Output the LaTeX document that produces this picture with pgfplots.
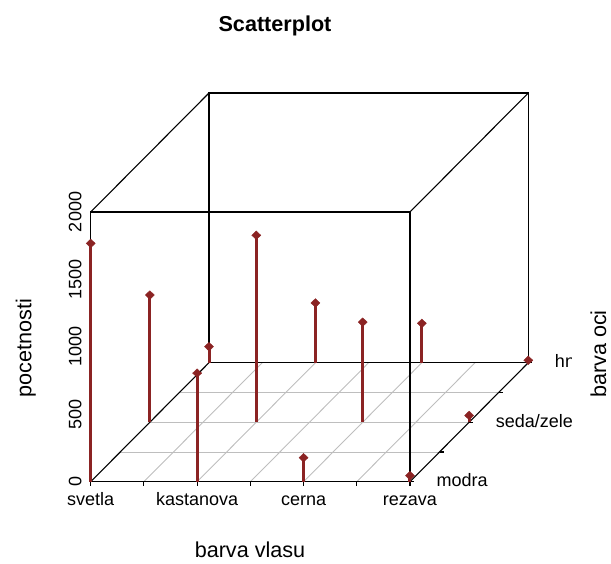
\documentclass[border=0pt]{standalone}
\usepackage{pgfplots}
\pgfplotsset{compat=1.18}
\usepackage{pgfplotstable}
\usepackage{fontspec}
\setmainfont{Liberation Sans}
\definecolor{stem}{RGB}{139,35,35}
\definecolor{gridc}{RGB}{190,190,190}
\newcommand\ticksz{\fontsize{18}{20}\selectfont}
\newcommand\labsz{\fontsize{21.6}{24}\selectfont}

% x: barva vlasu (1 svetla .. 4 rezava), y: barva oci (1 modra, 2 seda/zelena, 3 hneda)
\pgfplotstableread{
x y n
1 1 1767
1 2 943
1 3 119
2 1 805
2 2 1386
2 3 443
3 1 178
3 2 742
3 3 292
4 1 45
4 2 50
4 3 18
}\counts

\begin{document}
\begin{tikzpicture}
\begin{axis}[
    hide axis, clip=false,
    x={(106.43pt,0pt)}, y={(59.15pt,59.5pt)}, z={(0pt,0.13485pt)},
    xmin=1, xmax=4, ymin=1, ymax=3, zmin=0, zmax=2000,
]
% floor grid
\pgfplotsinvokeforeach{1.5,2,2.5}{
  \addplot3[gridc, line width=0.9pt] coordinates {(1,#1,0) (4,#1,0)};
}
\pgfplotsinvokeforeach{1.5,2,2.5,3,3.5}{
  \addplot3[gridc, line width=0.9pt] coordinates {(#1,1,0) (#1,3,0)};
}
% box
\addplot3[black, line width=1.1pt] coordinates {(1,1,0) (4,1,0) (4,1,2000) (1,1,2000) (1,1,0)};
\addplot3[black, line width=1.1pt] coordinates {(1,3,0) (1,3,2000) (4,3,2000) (4,3,0) (1,3,0)};
\addplot3[black, line width=1.1pt] coordinates {(1,1,0) (1,3,0)};
\addplot3[black, line width=1.1pt] coordinates {(4,1,0) (4,3,0)};
\addplot3[black, line width=1.1pt] coordinates {(1,1,2000) (1,3,2000)};
\addplot3[black, line width=1.1pt] coordinates {(4,1,2000) (4,3,2000)};
% ticks
\pgfplotsinvokeforeach{1,1.5,2,2.5,3,3.5,4}{
  \draw[line width=1.1pt] (axis cs:#1,1,0) -- ++(0pt,-4pt);
}
\pgfplotsinvokeforeach{1,1.5,2,2.5,3}{
  \draw[line width=1.1pt] (axis cs:4,#1,0) -- ++(4pt,0pt);
}
% stems and points
\addplot3[stem, line width=3pt, -, quiver={u=0, v=0, w=\thisrow{n}}]
  table[x=x, y=y, z expr=0] {\counts};
\addplot3[only marks, mark=diamond*, mark size=4.3pt, color=stem,
  mark options={xscale=1.4}] table[x=x, y=y, z=n] {\counts};
% tick labels
\pgfplotsinvokeforeach{0,500,1000,1500,2000}{
  \node[rotate=90, anchor=base, font=\ticksz, inner sep=0pt]
    at ([xshift=-9.2pt]axis cs:1,1,#1) {#1};
}
\node[anchor=base, font=\ticksz, inner sep=0pt] at ([yshift=-24pt]axis cs:1,1,0) {svetla};
\node[anchor=base, font=\ticksz, inner sep=0pt] at ([yshift=-24pt]axis cs:2,1,0) {kastanova};
\node[anchor=base, font=\ticksz, inner sep=0pt] at ([yshift=-24pt]axis cs:3,1,0) {cerna};
\node[anchor=base, font=\ticksz, inner sep=0pt] at ([yshift=-24pt]axis cs:4,1,0) {rezava};
\coordinate (O) at (axis cs:1,1,0);
\coordinate (ym) at (axis cs:4,1,0);
\coordinate (ys) at (axis cs:4,2,0);
\coordinate (yh) at (axis cs:4,3,0);
\end{axis}
% labels of barva oci, cut off at the plot margin
\begin{scope}
\clip (O) ++(-90.7pt,-81.3pt) rectangle ++(571.7pt,563pt);
\node[anchor=base west, font=\ticksz, inner sep=0pt] at ([shift={(26.5pt,-5pt)}]ym) {modra};
\node[anchor=base west, font=\ticksz, inner sep=0pt] at ([shift={(26.5pt,-5pt)}]ys) {seda/zelena};
\node[anchor=base west, font=\ticksz, inner sep=0pt] at ([shift={(26.5pt,-5pt)}]yh) {hneda};
\end{scope}
% titles
\node[anchor=base, font=\labsz\bfseries, inner sep=0pt] at ([shift={(184.3pt,449.7pt)}]O) {Scatterplot};
\node[anchor=base, font=\labsz, inner sep=0pt] at ([shift={(159.3pt,-75.8pt)}]O) {barva vlasu};
\node[anchor=base, rotate=90, font=\labsz, inner sep=0pt] at ([shift={(-59.2pt,133.7pt)}]O) {pocetnosti};
\node[anchor=base, rotate=90, font=\labsz, inner sep=0pt] at ([shift={(515.3pt,127.7pt)}]O) {barva oci};
\pgfresetboundingbox
\path (O) ++(-90.7pt,-81.3pt) rectangle ++(611pt,563pt);
\end{tikzpicture}
\end{document}
